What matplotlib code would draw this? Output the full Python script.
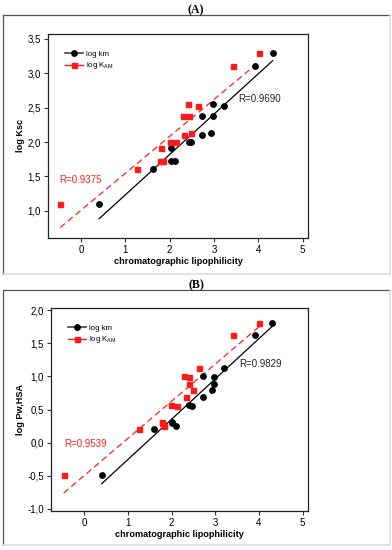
import numpy as np
import matplotlib
matplotlib.use("Agg")
import matplotlib.pyplot as plt
from matplotlib.lines import Line2D
from matplotlib.ticker import FuncFormatter

# ---- panel A: log Ksc vs chromatographic lipophilicity
km_A = [4.32, 3.93, 2.98, 3.22, 2.73, 2.98, 2.73, 2.94, 2.43, 2.48, 2.02, 2.02, 2.12, 1.62, 0.41]
kam_A = [4.02, 3.43, 2.42, 2.63, 2.30, 2.43, 2.32, 2.49, 2.15, 2.00, 1.80, 1.79, 1.84, 1.26, -0.47]
y_A = [3.30, 3.10, 2.55, 2.52, 2.38, 2.38, 2.10, 2.13, 2.00, 2.00, 1.92, 1.72, 1.72, 1.61, 1.10]

# ---- panel B: log Pw,HSA vs chromatographic lipophilicity
km_B = [4.31, 3.92, 3.21, 2.71, 2.98, 2.96, 2.93, 2.73, 2.40, 2.47, 2.00, 2.02, 2.10, 1.60, 0.40]
kam_B = [4.01, 3.41, 2.62, 2.29, 2.40, 2.40, 2.48, 2.32, 1.98, 2.13, 1.78, 1.78, 1.83, 1.25, -0.47]
y_B = [1.81, 1.63, 1.12, 1.01, 0.99, 0.89, 0.80, 0.69, 0.57, 0.55, 0.31, 0.29, 0.25, 0.20, -0.49]

r_km = ["R=0.9690", "R=0.9829"]
r_kam = ["R=0.9375", "R=0.9539"]
ylabels = ["log Ksc", "log Pw,HSA"]
titles = ["(A)", "(B)"]

plt.rcParams["font.family"] = ["Liberation Sans", "DejaVu Sans"]
fig = plt.figure(figsize=(3.92, 5.5), dpi=100)
W, H = 392.0, 550.0

# bevelled frames around each panel
for top, bot in [(15, 274), (289.5, 545)]:
    l, r = 3, 389.5
    fig.add_artist(Line2D([l / W, r / W], [1 - top / H] * 2, color="#555555", lw=0.9))
    fig.add_artist(Line2D([l / W] * 2, [1 - top / H, 1 - bot / H], color="#555555", lw=0.9))
    fig.add_artist(Line2D([l / W, r / W], [1 - bot / H] * 2, color="#dddddd", lw=1.2))
    fig.add_artist(Line2D([r / W] * 2, [1 - top / H, 1 - bot / H], color="#dddddd", lw=1.2))

# axes boxes in pixels: left, right, top, bottom
boxes = [(48, 308, 34, 237.7), (51, 308.3, 308.3, 510.7)]
xlims = [(-0.745, 5.12), (-0.76, 5.13)]
ylims = [(0.61, 3.57), (-1.03, 2.03)]
yticks = [np.arange(1.0, 3.51, 0.5), np.arange(-1.0, 2.01, 0.5)]
title_y = [10, 285]
r_km_pos = [(3.55, 2.62), (3.55, 1.19)]
r_kam_pos = [(-0.5, 1.45), (-0.46, -0.02)]

data = [(km_A, kam_A, y_A), (km_B, kam_B, y_B)]
for i, (km, kam, yv) in enumerate(data):
    l, r, t, b = boxes[i]
    ax = fig.add_axes([l / W, 1 - b / H, (r - l) / W, (b - t) / H])
    km, kam, yv = np.array(km), np.array(kam), np.array(yv)

    # regression lines
    for xv, col, ls in [(km, "black", "-"), (kam, "#ff2020", (0, (5, 3)))]:
        p = np.polyfit(xv, yv, 1)
        xx = np.array([xv.min(), xv.max()])
        ax.plot(xx, np.polyval(p, xx), color=col, ls=ls, lw=0.9, zorder=2)

    ax.plot(km, yv, "o", color="black", ms=3.9, ls="none", zorder=3)
    ax.plot(kam, yv, "s", color="#ff1a1a", ms=3.6, ls="none", zorder=3)

    handles = [Line2D([], [], color="#444444", lw=1.2, marker="o", mfc="black", mec="black", ms=3.9),
               Line2D([], [], color="#ff1a1a", lw=1.0, marker="s", ms=3.6)]
    ax.legend(handles, ["log km", "log K$_{\\mathregular{AM}}$"], loc="upper left",
              bbox_to_anchor=(0.05, 0.94), frameon=False, fontsize=5.6,
              handlelength=2.3, handletextpad=0.4, labelspacing=0.35, borderpad=0)

    ax.text(*r_km_pos[i], r_km[i], fontsize=7, color="#222222", va="center")
    ax.text(*r_kam_pos[i], r_kam[i], fontsize=7, color="#ff2020", va="center")

    ax.set_xlim(*xlims[i])
    ax.set_ylim(*ylims[i])
    ax.set_xticks(range(0, 6))
    ax.set_yticks(yticks[i])
    ax.yaxis.set_major_formatter(FuncFormatter(lambda v, _: f"{v:.1f}".replace(".", ",")))
    ax.tick_params(labelsize=7, length=3, width=0.8, color="#333333", pad=2)
    for s in ax.spines.values():
        s.set_linewidth(0.9)
        s.set_color("#222222")
    ax.set_xlabel("chromatographic lipophilicity", fontsize=6.6, fontweight="bold", labelpad=2)
    ax.set_ylabel(ylabels[i], fontsize=6.6, fontweight="bold", labelpad=2)

    fig.text(196 / W, 1 - title_y[i] / H, titles[i], ha="center", va="center",
             fontsize=8.5, fontweight="bold", family="Liberation Serif")

fig.savefig("out.png", dpi=100)
